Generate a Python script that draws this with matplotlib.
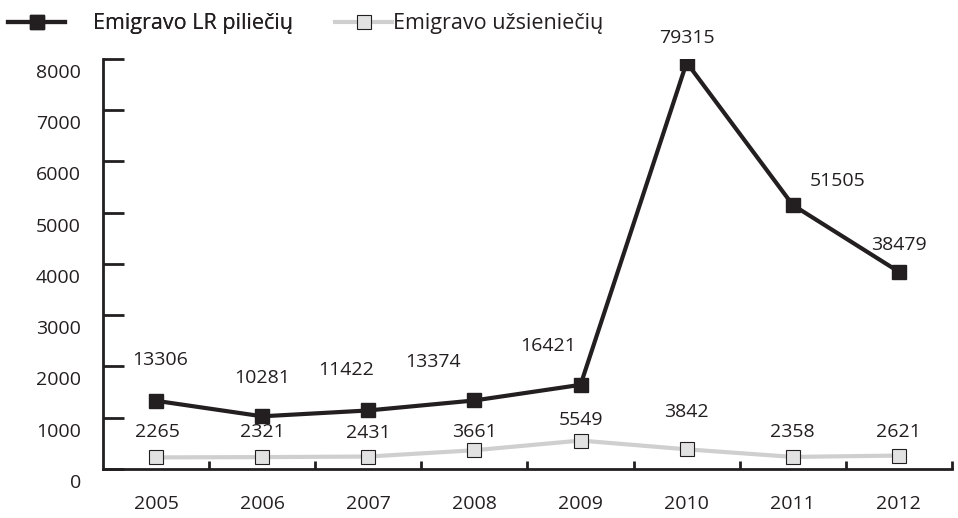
import numpy as np
import matplotlib
matplotlib.use('Agg')
import matplotlib.pyplot as plt
import matplotlib.transforms as mtransforms

'''Data'''
years = ['2005', '2006', '2007', '2008', '2009', '2010', '2011', '2012']
citizens = [13306, 10281, 11422, 13374, 16421, 79315, 51505, 38479]
foreigners = [2265, 2321, 2431, 3661, 5549, 3842, 2358, 2621]
y_ticks = [0, 1000, 2000, 3000, 4000, 5000, 6000, 7000, 8000]

# label offsets (pixels) for the value annotations
cit_off = [(4, 41), (0, 38), (-22, 40), (-41, 38), (-32, 39), (0, 25), (45, 24), (0, 27)]
for_off = [(1, 25), (0, 25), (0, 24), (0, 18), (0, 21), (0, 37), (0, 25), (0, 24)]

plt.rcParams['font.family'] = ['Open Sans', 'DejaVu Sans']
ink = '#231f20'
fs = 14
lfs = 15.5

'''Plot'''
fig = plt.figure(figsize=(9.58, 5.18), dpi=100, facecolor='white')
ax = fig.add_axes([0.1075, 0.0946, 0.8862, 0.7915])

x = np.arange(len(years))
# the chart draws the series at one tenth of the labelled value
cit_plot = np.array(citizens) / 10
for_plot = np.array(foreigners) / 10

l1, = ax.plot(x, cit_plot, color=ink, linewidth=3, marker='s', markersize=10,
              markerfacecolor=ink, markeredgecolor=ink, label='Emigravo LR piliečių', zorder=3)
l2, = ax.plot(x, for_plot, color='#cfcfcf', linewidth=3, marker='s', markersize=10,
              markerfacecolor='#e2e2e2', markeredgecolor=ink, markeredgewidth=0.8,
              label='Emigravo užsieniečių', zorder=3)

for i in range(len(years)):
    ax.annotate(str(citizens[i]), (x[i], cit_plot[i]), xytext=cit_off[i],
                textcoords='offset pixels', ha='center', va='center',
                fontsize=fs, color=ink)
    ax.annotate(str(foreigners[i]), (x[i], for_plot[i]), xytext=for_off[i],
                textcoords='offset pixels', ha='center', va='center',
                fontsize=fs, color=ink)

ax.set_xlim(-0.5, len(years) - 0.5)
ax.set_ylim(0, 8000)

ax.set_xticks(x)
ax.set_xticklabels(years)
ax.set_xticks(x + 0.5, minor=True)
ax.tick_params(axis='x', which='major', length=0, pad=19, labelsize=fs, labelcolor=ink)
ax.tick_params(axis='x', which='minor', direction='in', length=6, width=2, color=ink)

ax.set_yticks(y_ticks)
ax.set_yticklabels([str(v) for v in y_ticks])
ax.tick_params(axis='y', direction='in', length=15, width=2, color=ink,
               pad=16, labelsize=fs, labelcolor=ink)
shift = mtransforms.ScaledTranslation(0, -12 / 100, fig.dpi_scale_trans)
for lab in ax.get_yticklabels():
    lab.set_transform(lab.get_transform() + shift)

for side in ['top', 'right']:
    ax.spines[side].set_visible(False)
for side in ['left', 'bottom']:
    ax.spines[side].set_color(ink)
    ax.spines[side].set_linewidth(2)

# two separate legend entries, spaced like the original
leg1 = fig.legend(handles=[l1], loc='center left', bbox_to_anchor=(8 / 958, 1 - 24 / 518),
                  frameon=False, fontsize=lfs, handlelength=2.65, handletextpad=1.3,
                  labelcolor=ink, borderaxespad=0, borderpad=0)
leg2 = fig.legend(handles=[l2], loc='center left', bbox_to_anchor=(335 / 958, 1 - 24 / 518),
                  frameon=False, fontsize=lfs, handlelength=2.65, handletextpad=0.05,
                  labelcolor=ink, borderaxespad=0, borderpad=0)
fig.add_artist(leg1)

fig.savefig('out.png', dpi=100, facecolor='white')
